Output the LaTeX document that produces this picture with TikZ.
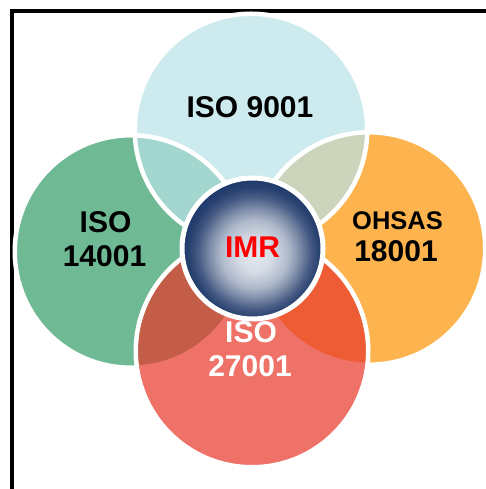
\documentclass[tikz,border=0pt]{standalone}
\usepackage{fontspec}
\setmainfont{Liberation Sans}
\definecolor{cgreen}{RGB}{111,185,148}
\definecolor{corange}{RGB}{253,180,78}
\definecolor{cblue}{RGB}{185,227,232}
\definecolor{cred}{RGB}{231,55,41}
\definecolor{imrA}{RGB}{226,231,238}
\definecolor{imrB}{RGB}{214,220,229}
\definecolor{imrC}{RGB}{175,185,203}
\definecolor{imrD}{RGB}{125,140,168}
\definecolor{imrE}{RGB}{70,90,131}
\definecolor{imrF}{RGB}{40,66,112}
\definecolor{imrG}{RGB}{30,58,108}
\pgfdeclareradialshading{imrball}{\pgfpoint{1bp}{-2.5bp}}{color(0bp)=(imrA); color(6bp)=(imrB); color(12bp)=(imrC); color(16bp)=(imrD); color(20bp)=(imrE); color(23bp)=(imrF); color(25.5bp)=(imrG); color(50bp)=(imrG)}
\begin{document}
\begin{tikzpicture}[x=1pt,y=1pt,
  lbl/.style={font=\bfseries\fontsize{30}{30}\selectfont, inner sep=0pt, anchor=base},
  ring/.style={draw=white, line width=4.5pt}]
\useasboundingbox (0,0) rectangle (486,489);
\fill[white] (0,0) rectangle (486,489);
\draw[line width=3.7pt, line join=miter] (12,0) -- (12,478.1) -- (486,478.1);
\coordinate (T) at (251,359);
\coordinate (L) at (131,237.5);
\coordinate (R) at (369,240.5);
\coordinate (B) at (252,138);
\coordinate (C) at (252.5,240.5);
\fill[cgreen] (L) circle (116.25);
\fill[corange] (R) circle (116.25);
\fill[cblue, fill opacity=0.71] (T) circle (116.25);
\draw[ring] (L) circle (116.25);
\draw[ring] (R) circle (116.25);
\draw[ring] (T) circle (116.25);
\fill[cred, fill opacity=0.7] (B) circle (116.25);
\draw[ring] (B) circle (116.25);
\shadedraw[shading=imrball, draw=white, line width=5pt] (C) circle (70.5);
\node[lbl] (t9001) at (250,371) {ISO 9001};
\node[lbl] (t14a) at (105.5,256) {ISO};
\node[lbl] (t14b) at (104.5,222) {14001};
\node[lbl, font=\bfseries\fontsize{25.5}{25.5}\selectfont] (t18a) at (397.5,259) {OHSAS};
\node[lbl] (t18b) at (396,227) {18001};
\node[lbl, text=white] (t27a) at (251,146) {ISO};
\node[lbl, text=white] (t27b) at (250,112) {27001};
\node[lbl, text=red] (imr) at (252.5,231) {IMR};
\end{tikzpicture}
\end{document}
